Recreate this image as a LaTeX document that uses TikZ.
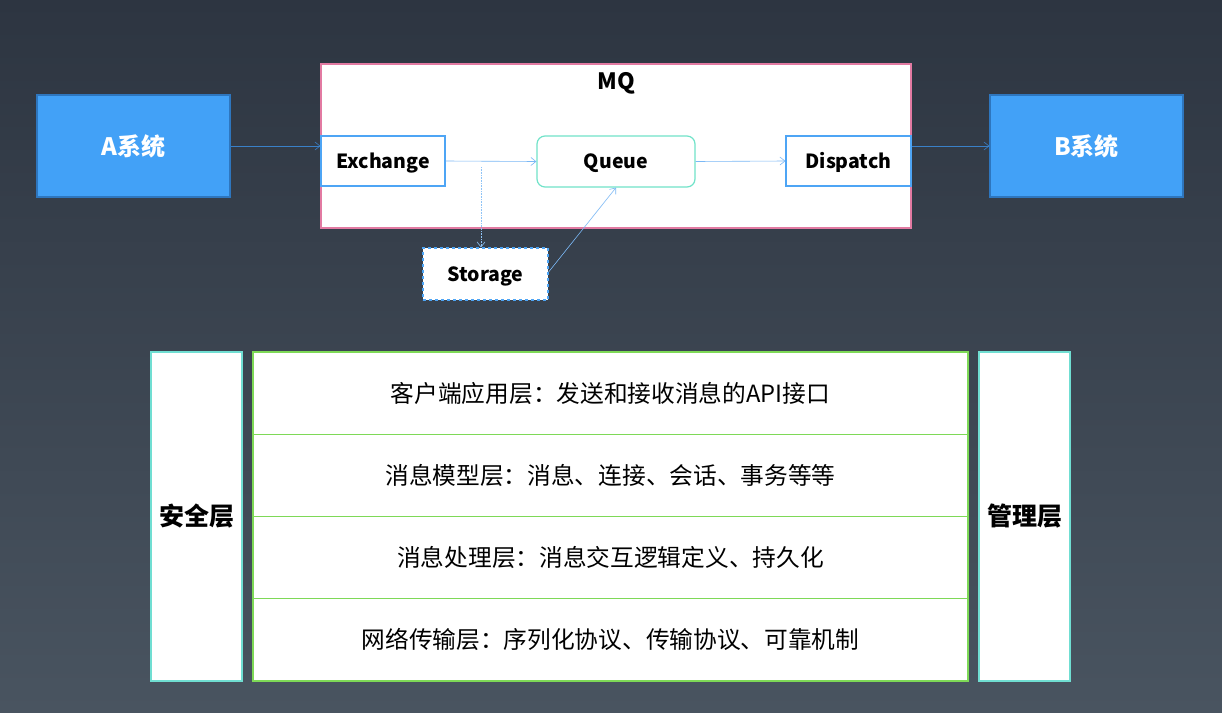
\documentclass[tikz,border=0pt]{standalone}
\usepackage{fontspec}
\setmainfont{Noto Sans CJK SC}
\usetikzlibrary{arrows.meta}
\definecolor{bgtop}{RGB}{45,53,65}
\definecolor{bgbot}{RGB}{73,84,96}
\definecolor{sysblue}{RGB}{66,161,247}
\definecolor{sysedge}{RGB}{46,118,190}
\definecolor{boxblue}{RGB}{78,165,245}
\definecolor{mqpink}{RGB}{226,122,162}
\definecolor{qteal}{RGB}{113,227,201}
\definecolor{laygreen}{RGB}{126,217,87}
\definecolor{sideteal}{RGB}{112,222,210}
\definecolor{linkblue}{RGB}{58,128,200}
\definecolor{lightlink}{RGB}{122,184,245}

\begin{document}
\begin{tikzpicture}[x=1pt,y=-1pt,
  sys/.style={draw=sysedge,fill=sysblue,line width=1.2pt,minimum width=193pt,minimum height=102pt,
              text=white,font=\fontsize{24}{28}\selectfont\bfseries},
  part/.style={draw=boxblue,fill=white,line width=1.2pt,minimum width=124pt,minimum height=50pt,
               text height=16pt,text depth=2pt,font=\fontsize{19.5}{23}\selectfont\bfseries},
  layer/.style={draw=laygreen,fill=white,line width=1.2pt,minimum width=715pt,minimum height=82.25pt,
                font=\fontsize{23.7}{27}\selectfont},
  side/.style={draw=sideteal,fill=white,line width=1.2pt,minimum width=91pt,minimum height=329pt,
               font=\fontsize{25}{29}\selectfont\bfseries},
  link/.style={draw=linkblue,line width=0.6pt,-{Straight Barb[length=5pt,width=8pt]}}]
\shade[top color=bgtop,bottom color=bgbot] (0,0) rectangle (1222,712);

%% MQ
\node[draw=mqpink,fill=white,line width=1.2pt,minimum width=590pt,minimum height=164pt] (mq) at (616,146) {};
\node[font=\fontsize{22.5}{26}\selectfont\bfseries] (mqlabel) at (616,83.5) {MQ};
\node[sys] (asys) at (133.5,146) {A系统};
\node[sys] (bsys) at (1086.5,146) {B系统};
\node[part] (ex) at (383,161) {Exchange};
\node[part,draw=qteal,rounded corners=8pt,minimum width=158pt,minimum height=51pt] (queue) at (616,161.5) {Queue};
\node[part,minimum width=125pt] (disp) at (848.5,161) {Dispatch};
\node[part,dashed,minimum width=125pt,minimum height=52pt] (store) at (485.5,274) {Storage};
\coordinate (tap) at (481,167);

\draw[link] (asys) -- (asys -| ex.west);
\draw[link] (disp.east |- bsys) -- (bsys.west);
\draw[link,draw=lightlink] (ex.east) -- (queue.west);
\draw[link,draw=lightlink] (queue.east) -- (disp.west);
\draw[link,draw=lightlink!85!white,densely dotted] (tap) -- (tap |- store.north);
\draw[link,draw=lightlink] (store.east) ++(0,-2) -- (queue.south);

%% layers
\node[side] (safe) at (196.5,516.5) {安全层};
\node[side] (manage) at (1024.5,516.5) {管理层};
\foreach \i/\txt in {0/客户端应用层：发送和接收消息的API接口,1/消息模型层：消息、连接、会话、事务等等,
                     2/消息处理层：消息交互逻辑定义、持久化,3/网络传输层：序列化协议、传输协议、可靠机制}
  \node[layer] (lay\i) at (610.5,393.1+82.25*\i) {\txt};
\end{tikzpicture}
\end{document}
